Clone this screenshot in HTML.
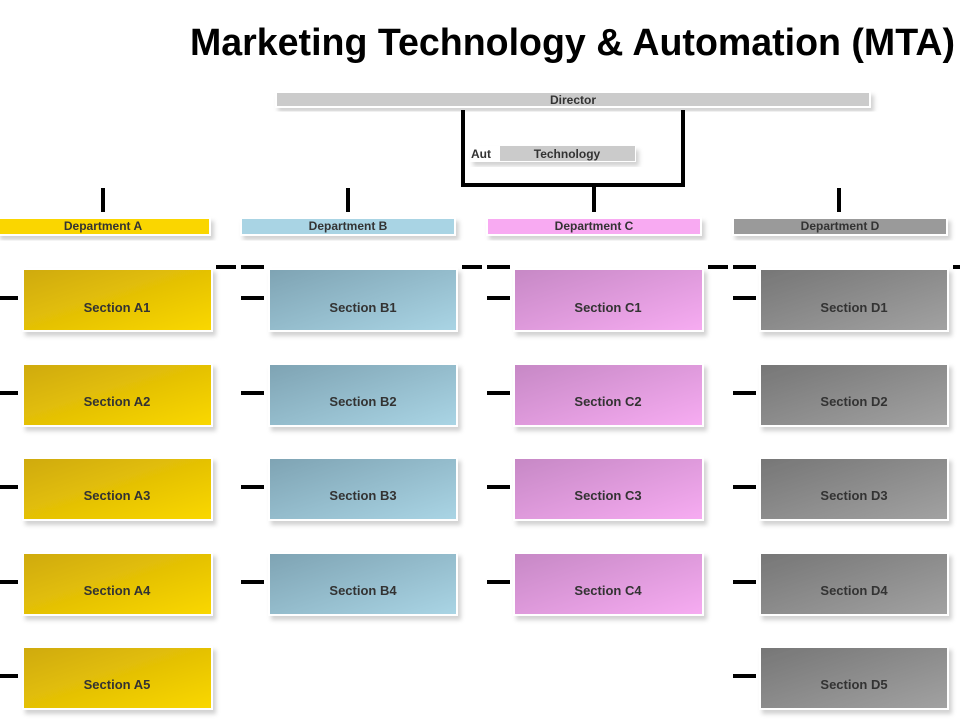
<!DOCTYPE html>
<html><head><meta charset="utf-8"><style>
html,body{margin:0;padding:0;background:#fff;width:960px;height:720px;overflow:hidden}
</style></head><body>
<svg width="960" height="720" viewBox="0 0 960 720" xmlns="http://www.w3.org/2000/svg" font-family="Liberation Sans, sans-serif" font-weight="bold">
<defs>
<linearGradient id="gA" x1="0" y1="0" x2="1" y2="1"><stop offset="0" stop-color="#cfaa0c"/><stop offset="1" stop-color="#fad800"/></linearGradient>
<linearGradient id="gB" x1="0" y1="0" x2="1" y2="1"><stop offset="0" stop-color="#7ea3b3"/><stop offset="1" stop-color="#aad5e5"/></linearGradient>
<linearGradient id="gC" x1="0" y1="0" x2="1" y2="1"><stop offset="0" stop-color="#c688c5"/><stop offset="1" stop-color="#f7acf2"/></linearGradient>
<linearGradient id="gD" x1="0" y1="0" x2="1" y2="1"><stop offset="0" stop-color="#767676"/><stop offset="1" stop-color="#a2a2a2"/></linearGradient>
<filter id="sh" x="-5%" y="-10%" width="115%" height="140%"><feDropShadow dx="3" dy="4" stdDeviation="2" flood-color="#000" flood-opacity="0.18"/></filter>
</defs>
<text x="190" y="55" font-size="38" textLength="765" lengthAdjust="spacingAndGlyphs" fill="#000">Marketing Technology &amp; Automation (MTA)</text>

<!-- director -->
<rect x="276" y="92" width="594" height="15" fill="#cbcbcb" stroke="#fff" stroke-width="2" filter="url(#sh)"/>
<text x="573" y="104" font-size="12" text-anchor="middle" fill="#333">Director</text>
<!-- bracket -->
<path d="M463 110 V185 H683 V110" fill="none" stroke="#000" stroke-width="4"/>
<rect x="592" y="185" width="4" height="27" fill="#000"/>
<!-- technology -->
<rect x="470" y="146" width="166" height="16" fill="#fff" filter="url(#sh)"/>
<text x="471" y="158" font-size="12" fill="#333">Aut</text>
<rect x="494" y="146" width="4" height="16" fill="#fff"/>
<rect x="500" y="146" width="135" height="15" fill="#cbcbcb"/>
<text x="567" y="158" font-size="12" text-anchor="middle" fill="#333">Technology</text>

<!-- stubs -->
<rect x="101" y="188" width="4" height="24" fill="#000"/>
<rect x="346" y="188" width="4" height="24" fill="#000"/>
<rect x="837" y="188" width="4" height="24" fill="#000"/>

<!-- dept bars -->
<g font-size="12" text-anchor="middle" fill="#333">
<rect x="-2" y="218" width="212" height="17" fill="#fad600" stroke="#fff" stroke-width="2" filter="url(#sh)"/>
<text x="103" y="230">Department A</text>
<rect x="241" y="218" width="214" height="17" fill="#a9d4e4" stroke="#fff" stroke-width="2" filter="url(#sh)"/>
<text x="348" y="230">Department B</text>
<rect x="487" y="218" width="214" height="17" fill="#f8aaf2" stroke="#fff" stroke-width="2" filter="url(#sh)"/>
<text x="594" y="230">Department C</text>
<rect x="733" y="218" width="214" height="17" fill="#9a9a9a" stroke="#fff" stroke-width="2" filter="url(#sh)"/>
<text x="840" y="230">Department D</text>
</g>

<!-- top dashes -->
<g fill="#000">
<rect x="216" y="265" width="20" height="4"/><rect x="241" y="265" width="23" height="4"/>
<rect x="462" y="265" width="20" height="4"/><rect x="487" y="265" width="23" height="4"/>
<rect x="708" y="265" width="20" height="4"/><rect x="733" y="265" width="23" height="4"/>
<rect x="953" y="265" width="7" height="4"/>
</g>

<g font-size="13" text-anchor="middle" fill="#333">
<!-- A -->
<g id="secs"></g>
</g>
<g fill="#000">
<rect x="0" y="296" width="18" height="4"/><rect x="0" y="391" width="18" height="4"/><rect x="0" y="485" width="18" height="4"/><rect x="0" y="580" width="18" height="4"/><rect x="0" y="674" width="18" height="4"/>
<rect x="241" y="296" width="23" height="4"/><rect x="241" y="391" width="23" height="4"/><rect x="241" y="485" width="23" height="4"/><rect x="241" y="580" width="23" height="4"/>
<rect x="487" y="296" width="23" height="4"/><rect x="487" y="391" width="23" height="4"/><rect x="487" y="485" width="23" height="4"/><rect x="487" y="580" width="23" height="4"/>
<rect x="733" y="296" width="23" height="4"/><rect x="733" y="391" width="23" height="4"/><rect x="733" y="485" width="23" height="4"/><rect x="733" y="580" width="23" height="4"/><rect x="733" y="674" width="23" height="4"/>
</g>
<g font-size="13" text-anchor="middle" fill="#333" stroke-width="2" stroke="#fff">
<rect x="23" y="269" width="189" height="62" fill="url(#gA)" filter="url(#sh)"/>
<rect x="23" y="364" width="189" height="62" fill="url(#gA)" filter="url(#sh)"/>
<rect x="23" y="458" width="189" height="62" fill="url(#gA)" filter="url(#sh)"/>
<rect x="23" y="553" width="189" height="62" fill="url(#gA)" filter="url(#sh)"/>
<rect x="23" y="647" width="189" height="62" fill="url(#gA)" filter="url(#sh)"/>
<rect x="269" y="269" width="188" height="62" fill="url(#gB)" filter="url(#sh)"/>
<rect x="269" y="364" width="188" height="62" fill="url(#gB)" filter="url(#sh)"/>
<rect x="269" y="458" width="188" height="62" fill="url(#gB)" filter="url(#sh)"/>
<rect x="269" y="553" width="188" height="62" fill="url(#gB)" filter="url(#sh)"/>
<rect x="514" y="269" width="189" height="62" fill="url(#gC)" filter="url(#sh)"/>
<rect x="514" y="364" width="189" height="62" fill="url(#gC)" filter="url(#sh)"/>
<rect x="514" y="458" width="189" height="62" fill="url(#gC)" filter="url(#sh)"/>
<rect x="514" y="553" width="189" height="62" fill="url(#gC)" filter="url(#sh)"/>
<rect x="760" y="269" width="188" height="62" fill="url(#gD)" filter="url(#sh)"/>
<rect x="760" y="364" width="188" height="62" fill="url(#gD)" filter="url(#sh)"/>
<rect x="760" y="458" width="188" height="62" fill="url(#gD)" filter="url(#sh)"/>
<rect x="760" y="553" width="188" height="62" fill="url(#gD)" filter="url(#sh)"/>
<rect x="760" y="647" width="188" height="62" fill="url(#gD)" filter="url(#sh)"/>
<g stroke="none">
<text x="117" y="312">Section A1</text><text x="117" y="406">Section A2</text><text x="117" y="500">Section A3</text><text x="117" y="595">Section A4</text><text x="117" y="689">Section A5</text>
<text x="363" y="312">Section B1</text><text x="363" y="406">Section B2</text><text x="363" y="500">Section B3</text><text x="363" y="595">Section B4</text>
<text x="608" y="312">Section C1</text><text x="608" y="406">Section C2</text><text x="608" y="500">Section C3</text><text x="608" y="595">Section C4</text>
<text x="854" y="312">Section D1</text><text x="854" y="406">Section D2</text><text x="854" y="500">Section D3</text><text x="854" y="595">Section D4</text><text x="854" y="689">Section D5</text>
</g>
</g>
</svg>
</body></html>
